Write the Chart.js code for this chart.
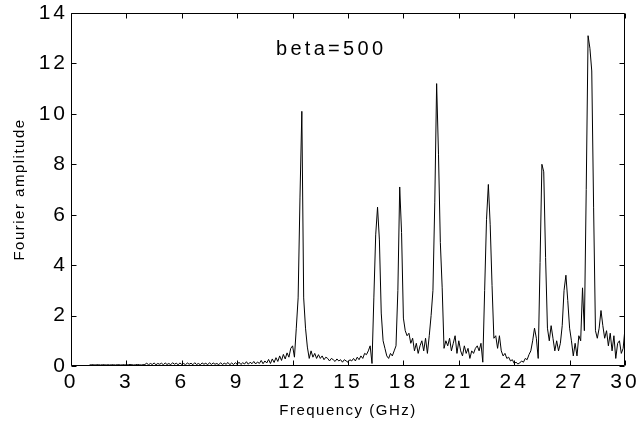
<!DOCTYPE html>
<html>
<head>
<meta charset="utf-8">
<script src="https://cdn.jsdelivr.net/npm/chart.js@4"></script>
<style>
  body { margin: 0; background: #fff; }
</style>
</head>
<body>
<canvas id="spectrum" width="636" height="423"></canvas>
<script>
// sample grid of the spectrum (GHz)
const freqStart = 1.0;
const freqStep = 0.1;

// Fourier amplitude, one row per GHz (x.0 .. x.9)
const amplitude = [
  0.04,0.05,0.05,0.04,0.05,0.05,0.04,0.05,0.05,0.04,   // 1
  0.05,0.04,0.05,0.05,0.04,0.05,0.05,0.04,0.05,0.05,   // 2
  0.04,0.05,0.06,0.05,0.04,0.05,0.06,0.05,0.04,0.05,   // 3
  0.06,0.11,0.05,0.10,0.06,0.12,0.05,0.10,0.07,0.11,   // 4
  0.05,0.12,0.06,0.10,0.05,0.13,0.07,0.11,0.05,0.12,   // 5
  0.06,0.10,0.05,0.12,0.07,0.11,0.05,0.13,0.06,0.10,   // 6
  0.05,0.12,0.07,0.11,0.05,0.13,0.06,0.12,0.07,0.10,   // 7
  0.05,0.13,0.06,0.11,0.07,0.14,0.05,0.12,0.06,0.13,   // 8
  0.07,0.15,0.06,0.13,0.08,0.17,0.07,0.15,0.09,0.18,   // 9
  0.08,0.16,0.10,0.22,0.09,0.20,0.12,0.26,0.10,0.28,   // 10
  0.14,0.33,0.18,0.40,0.22,0.46,0.28,0.52,0.35,0.70,   // 11
  0.8,0.35,1.5,2.7,6.7,10.1,2.7,1.5,0.75,0.3,          // 12
  0.6,0.35,0.5,0.3,0.45,0.3,0.4,0.25,0.35,0.3,         // 13
  0.2,0.3,0.25,0.18,0.28,0.2,0.25,0.15,0.25,0.2,       // 14
  0.15,0.25,0.2,0.3,0.2,0.35,0.25,0.4,0.3,0.5,         // 15
  0.45,0.6,0.8,0.1,2.7,5.2,6.3,5.0,2.1,1.0,            // 16
  0.7,0.4,0.3,0.5,0.4,0.6,0.8,3.0,7.1,5.3,             // 17
  1.9,1.4,1.2,1.3,0.9,1.1,0.6,0.9,0.5,0.8,             // 18
  1.0,0.6,1.1,0.5,1.2,2.0,3.0,6.5,11.2,8.4,            // 19
  4.9,3.1,0.7,1.0,0.8,1.1,0.6,0.9,1.2,0.5,             // 20
  1.0,0.6,0.4,0.8,0.5,0.7,0.3,0.6,0.5,0.7,             // 21
  0.8,0.6,0.9,0.15,3.0,5.8,7.2,5.6,3.2,1.1,            // 22
  1.2,0.7,1.2,0.6,0.4,0.5,0.3,0.35,0.2,0.25,           // 23
  0.1,0.15,0.08,0.12,0.2,0.15,0.3,0.25,0.45,0.6,       // 24
  1.0,1.5,1.1,0.3,4.1,8.0,7.7,4.3,1.5,1.0,             // 25
  1.6,1.1,0.6,1.0,0.6,0.9,1.6,3.0,3.6,2.6,             // 26
  1.5,1.0,0.4,0.9,0.4,1.2,1.0,3.1,1.4,7.0,             // 27
  13.1,12.6,11.7,6.3,1.4,1.1,1.5,2.2,1.6,1.1,          // 28
  1.4,0.8,1.3,0.6,1.2,0.3,0.9,1.0,0.5,0.7,             // 29
  1.5                                                  // 30
];

const xTicks = [0, 3, 6, 9, 12, 15, 18, 21, 24, 27, 30];
const yTicks = [0, 2, 4, 6, 8, 10, 12, 14];
const xTitle = "Frequency (GHz)";
const yTitle = "Fourier amplitude";
const note = "beta=500";
const notePos = { x: 11.1, y: 12.34 };   // left/baseline of the note, data units

const points = amplitude.map((a, i) => ({ x: +(freqStart + i * freqStep).toFixed(1), y: a }));

const FONT = "'Liberation Sans', Arial, sans-serif";

// matlab-ish frame: box, inward ticks, spaced text
const matlabFrame = {
  id: "matlabFrame",
  beforeLayout(chart) { chart.ctx.letterSpacing = "3px"; },
  beforeDraw(chart) { chart.ctx.letterSpacing = "3px"; },
  afterDraw(chart) {
    const ctx = chart.ctx;
    const a = chart.chartArea;
    const xs = chart.scales.x, ys = chart.scales.y;
    const L = Math.round(a.left) + 0.5, R = Math.round(a.right) - 0.5;
    const T = Math.round(a.top) + 0.5, B = Math.round(a.bottom) - 0.5;
    const tl = 5;
    ctx.save();
    ctx.strokeStyle = "#000";
    ctx.lineWidth = 1;
    ctx.beginPath();
    ctx.rect(L, T, R - L, B - T);
    xTicks.forEach(v => {
      const px = Math.round(xs.getPixelForValue(v)) + 0.5;
      ctx.moveTo(px, B); ctx.lineTo(px, B - tl);
      ctx.moveTo(px, T); ctx.lineTo(px, T + tl);
    });
    yTicks.forEach(v => {
      const py = Math.round(ys.getPixelForValue(v)) + 0.5;
      ctx.moveTo(L, py); ctx.lineTo(L + tl, py);
      ctx.moveTo(R, py); ctx.lineTo(R - tl, py);
    });
    ctx.stroke();

    ctx.fillStyle = "#000";
    // note inside the plot
    ctx.letterSpacing = "3.3px";
    ctx.font = "20px " + FONT;
    ctx.textAlign = "left";
    ctx.textBaseline = "alphabetic";
    ctx.fillText(note, xs.getPixelForValue(notePos.x), ys.getPixelForValue(notePos.y));

    // axis titles
    ctx.letterSpacing = "1.5px";
    ctx.font = "15px " + FONT;
    ctx.textAlign = "center";
    ctx.fillText(xTitle, (a.left + a.right) / 2, 415);
    ctx.translate(24, (a.top + a.bottom) / 2);
    ctx.rotate(-Math.PI / 2);
    ctx.fillText(yTitle, 0, 0);
    ctx.restore();
  }
};

new Chart(document.getElementById("spectrum"), {
  type: "line",
  data: {
    datasets: [{
      data: points,
      borderColor: "#000",
      borderWidth: 1,
      pointRadius: 0,
      tension: 0,
      fill: false
    }]
  },
  options: {
    responsive: false,
    animation: false,
    events: [],
    layout: { padding: { left: 0, right: 11, top: 13, bottom: 0 } },
    plugins: { legend: { display: false }, tooltip: { enabled: false } },
    scales: {
      x: {
        type: "linear",
        min: 0, max: 30,
        afterBuildTicks(s) { s.ticks = xTicks.map(v => ({ value: v })); },
        afterFit(s) { s.height = 57; s.paddingLeft = 0; s.paddingRight = 0; },
        grid: { display: false, drawTicks: false },
        border: { display: false },
        ticks: { color: "#000", padding: 4, maxRotation: 0, autoSkip: false, font: { family: FONT, size: 21 } }
      },
      y: {
        min: 0, max: 14,
        afterBuildTicks(s) { s.ticks = yTicks.map(v => ({ value: v })); },
        afterFit(s) { s.width = 71; s.paddingTop = 0; s.paddingBottom = 0; },
        grid: { display: false, drawTicks: false },
        border: { display: false },
        ticks: { color: "#000", padding: 3, autoSkip: false, font: { family: FONT, size: 21 } }
      }
    }
  },
  plugins: [matlabFrame]
});
</script>
</body>
</html>
